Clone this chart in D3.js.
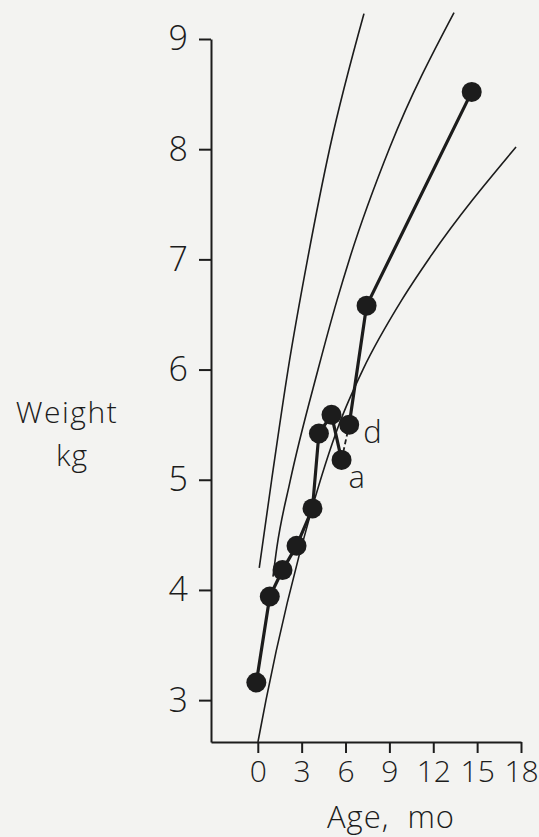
<!DOCTYPE html>
<html>
<head>
<meta charset="utf-8">
<script src="https://cdn.jsdelivr.net/npm/d3@7"></script>
<style>
  html, body { margin: 0; padding: 0; background: #f3f3f1; }
  svg { display: block; }
  text { font-family: "Open Sans", "DejaVu Sans", sans-serif; font-weight: 300; fill: #1c1c1c; }
</style>
</head>
<body>
<svg id="chart" width="539" height="837"></svg>
<script>
// ---- data ----
const ages    = [-0.1, 0.82, 1.69, 2.65, 3.74, 4.18, 5.04, 5.73, 6.25, 7.44, 14.63];
const weights = [3.16, 3.94, 4.18, 4.40, 4.74, 5.42, 5.59, 5.18, 5.50, 6.58, 8.52];
const pointLabels = ["", "", "", "", "", "", "", "a", "d", "", ""];

// reference growth curves (upper, middle, lower)
const upperAges    = [0.10, 0.95, 2.07, 3.43, 4.94, 7.26];
const upperWeights = [4.20, 5.00, 6.00, 7.02, 8.02, 9.23];
const middleAges    = [1.04, 1.31, 2.20, 4.12, 5.42, 6.31, 9.04, 13.42];
const middleWeights = [4.12, 4.39, 4.98, 6.00, 6.63, 7.02, 8.02, 9.24];
const lowerAges    = [0.01, 0.56, 3.71, 5.55, 7.19, 9.84, 11.78, 17.66];
const lowerWeights = [2.62, 3.00, 4.74, 5.50, 6.00, 6.63, 7.02, 8.02];

const xTicks = [0, 3, 6, 9, 12, 15, 18];
const yTicks = [3, 4, 5, 6, 7, 8, 9];

// ---- layout ----
const ink = "#1c1c1c";
const svg = d3.select("#chart");
const x = d3.scaleLinear().domain([-3.2, 18]).range([211, 521]);
const y = d3.scaleLinear().domain([2.62, 9]).range([742, 39]);

// axes
const yAxis = d3.axisLeft(y).tickValues(yTicks).tickSize(12).tickSizeOuter(0).tickPadding(11).tickFormat(d3.format("d"));
const gy = svg.append("g").attr("transform", `translate(${x.range()[0]},0)`).call(yAxis);
gy.selectAll("path, line").attr("stroke", ink).attr("stroke-width", 2);
gy.selectAll("text").style("font-size", "34px").attr("fill", ink);

const xAxis = d3.axisBottom(x).tickValues(xTicks).tickSize(11).tickSizeOuter(0).tickPadding(8).tickFormat(d3.format("d"));
const gx = svg.append("g").attr("transform", `translate(0,${y.range()[0]})`).call(xAxis);
gx.selectAll("path, line").attr("stroke", ink).attr("stroke-width", 2);
gx.selectAll("text").style("font-size", "30px").attr("fill", ink);

// reference curves
const curveLine = d3.line().x(d => x(d[0])).y(d => y(d[1])).curve(d3.curveMonotoneX);
[[upperAges, upperWeights], [middleAges, middleWeights], [lowerAges, lowerWeights]].forEach(([a, w]) => {
  svg.append("path")
    .attr("d", curveLine(a.map((v, i) => [v, w[i]])))
    .attr("fill", "none").attr("stroke", ink).attr("stroke-width", 1.6);
});

// data line
const pts = ages.map((a, i) => ({ age: a, w: weights[i], label: pointLabels[i] }));
const dataLine = d3.line().x(d => x(d.age)).y(d => y(d.w));
const ia = pointLabels.indexOf("a"), id = pointLabels.indexOf("d");
svg.append("path").attr("d", dataLine(pts.slice(0, ia + 1)))
  .attr("fill", "none").attr("stroke", ink).attr("stroke-width", 3.2);
svg.append("path").attr("d", dataLine(pts.slice(id)))
  .attr("fill", "none").attr("stroke", ink).attr("stroke-width", 3.2);
svg.append("path").attr("d", dataLine([pts[ia], pts[id]]))
  .attr("fill", "none").attr("stroke", ink).attr("stroke-width", 1.8).attr("stroke-dasharray", "5,3");

svg.append("g").selectAll("circle").data(pts).join("circle")
  .attr("cx", d => x(d.age)).attr("cy", d => y(d.w)).attr("r", 10).attr("fill", ink);

// point labels
svg.append("text").attr("x", x(pts[id].age) + 14).attr("y", y(pts[id].w) + 18)
  .style("font-size", "31px").text(pts[id].label);
svg.append("text").attr("x", x(pts[ia].age) + 7).attr("y", y(pts[ia].w) + 28)
  .style("font-size", "31px").text(pts[ia].label);

// axis titles
svg.append("text").attr("x", 67).attr("y", 423).attr("text-anchor", "middle")
  .style("font-size", "30px").style("letter-spacing", "1.5px").text("Weight");
svg.append("text").attr("x", 72).attr("y", 466).attr("text-anchor", "middle")
  .style("font-size", "30px").style("letter-spacing", "1px").text("kg");
svg.append("text").attr("x", 391).attr("y", 828).attr("text-anchor", "middle")
  .style("font-size", "31px").style("letter-spacing", "1px").style("white-space", "pre").text("Age,  mo");
</script>
</body>
</html>
